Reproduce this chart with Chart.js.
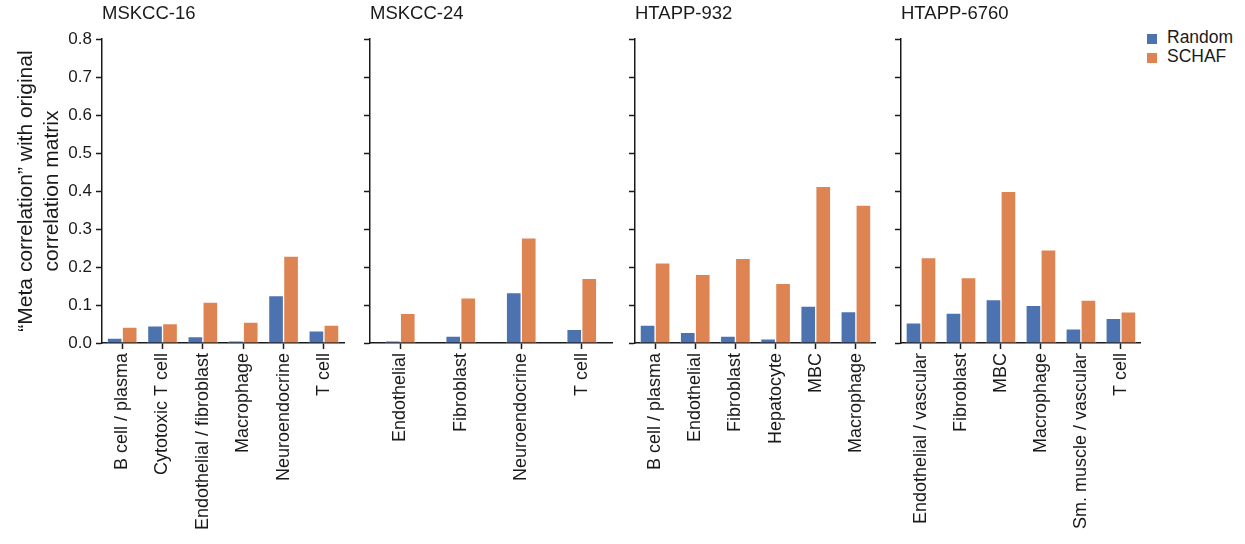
<!DOCTYPE html>
<html>
<head>
<meta charset="utf-8">
<script src="https://cdn.jsdelivr.net/npm/chart.js@4"></script>
<style>
  body { margin: 0; background: #fff; }
  #wrap { position: relative; width: 1245px; height: 544px; font-family: 'Liberation Sans', Arial, sans-serif; }
  .panel { position: absolute; top: 0; height: 544px; }
  .legend { position: absolute; left: 1147px; top: 28px; font-size: 17.5px; color: #1a1a1a; }
  .legend div { height: 19px; line-height: 19px; white-space: nowrap; }
  .legend span { display: inline-block; width: 10px; height: 10px; margin-right: 10px; vertical-align: -1px; }
</style>
</head>
<body>
<div id="wrap">
  <div class="panel" style="left:0px;width:350px"><canvas id="p1"></canvas></div>
  <div class="panel" style="left:350px;width:270px"><canvas id="p2"></canvas></div>
  <div class="panel" style="left:620px;width:262px"><canvas id="p3"></canvas></div>
  <div class="panel" style="left:885px;width:262px"><canvas id="p4"></canvas></div>
  <div class="legend">
    <div><span style="background:#4c72b0"></span>Random</div>
    <div><span style="background:#dd8452"></span>SCHAF</div>
  </div>
</div>
<script>
// Données
const seriesNames = ['Random', 'SCHAF'];
const yTicks = [0, 0.1, 0.2, 0.3, 0.4, 0.5, 0.6, 0.7, 0.8];

const mskcc16Labels = ['B cell / plasma', 'Cytotoxic T cell', 'Endothelial / fibroblast', 'Macrophage', 'Neuroendocrine', 'T cell'];
const mskcc16Random = [0.013, 0.045, 0.017, 0.005, 0.125, 0.032];
const mskcc16Schaf = [0.042, 0.051, 0.108, 0.055, 0.229, 0.047];

const mskcc24Labels = ['Endothelial', 'Fibroblast', 'Neuroendocrine', 'T cell'];
const mskcc24Random = [0.005, 0.018, 0.133, 0.036];
const mskcc24Schaf = [0.078, 0.119, 0.277, 0.170];

const htapp932Labels = ['B cell / plasma', 'Endothelial', 'Fibroblast', 'Hepatocyte', 'MBC', 'Macrophage'];
const htapp932Random = [0.047, 0.028, 0.018, 0.011, 0.097, 0.083];
const htapp932Schaf = [0.211, 0.181, 0.223, 0.157, 0.412, 0.363];

const htapp6760Labels = ['Endothelial / vascular', 'Fibroblast', 'MBC', 'Macrophage', 'Sm. muscle / vascular', 'T cell'];
const htapp6760Random = [0.053, 0.079, 0.114, 0.099, 0.037, 0.065];
const htapp6760Schaf = [0.225, 0.172, 0.399, 0.245, 0.113, 0.082];

const colors = ['#4c72b0', '#dd8452'];
const ink = '#1a1a1a';
const fontFamily = "'Liberation Sans', Arial, sans-serif";

function makePanel(id, title, labels, random, schaf, opts) {
    return new Chart(document.getElementById(id), {
        type: 'bar',
        data: {
            labels: labels,
            datasets: [random, schaf].map((vals, i) => ({
                label: seriesNames[i],
                data: vals,
                backgroundColor: colors[i],
                borderColor: 'rgba(255,255,255,0.75)',
                borderWidth: 1,
                barThickness: 15
            }))
        },
        options: {
            animation: false,
            responsive: true,
            maintainAspectRatio: false,
            layout: { padding: { top: 0, right: opts.right, bottom: 0, left: 0 } },
            plugins: {
                legend: { display: false },
                tooltip: { enabled: false },
                title: {
                    display: true,
                    text: title,
                    align: 'start',
                    fullSize: false,
                    color: ink,
                    font: { family: fontFamily, size: 18.5, weight: 'normal', lineHeight: 1.2 },
                    padding: { top: 3, bottom: 13.8 }
                }
            },
            scales: {
                x: {
                    offset: true,
                    grid: { display: true, drawOnChartArea: false, offset: false, tickLength: 6, tickColor: ink, tickWidth: 1.5 },
                    border: { color: ink, width: 1.5 },
                    ticks: {
                        autoSkip: false,
                        minRotation: 90,
                        maxRotation: 90,
                        padding: 4,
                        color: ink,
                        font: { family: fontFamily, size: 18 }
                    },
                    afterFit: (scale) => { scale.height = 201; }
                },
                y: {
                    min: 0,
                    max: 0.8,
                    afterBuildTicks: (scale) => { scale.ticks = yTicks.map(v => ({ value: v })); },
                    grid: { display: true, drawOnChartArea: false, tickLength: 6, tickColor: ink, tickWidth: 1.5 },
                    border: { color: ink, width: 1.5 },
                    ticks: {
                        display: opts.yLabels,
                        padding: 4,
                        color: ink,
                        font: { family: fontFamily, size: 17 },
                        callback: (v) => Number(v).toFixed(1)
                    },
                    title: {
                        display: opts.yLabels,
                        text: ['\u201CMeta correlation\u201D with original', 'correlation matrix'],
                        color: ink,
                        font: { family: fontFamily, size: 21, lineHeight: 1.2 },
                        padding: { top: 14, bottom: 0 }
                    },
                    afterFit: (scale) => { scale.width = opts.yWidth; }
                }
            }
        }
    });
}

makePanel('p1', 'MSKCC-16', mskcc16Labels, mskcc16Random, mskcc16Schaf, { yLabels: true, yWidth: 102, right: 5 });
makePanel('p2', 'MSKCC-24', mskcc24Labels, mskcc24Random, mskcc24Schaf, { yLabels: false, yWidth: 20, right: 8 });
makePanel('p3', 'HTAPP-932', htapp932Labels, htapp932Random, htapp932Schaf, { yLabels: false, yWidth: 15, right: 5 });
makePanel('p4', 'HTAPP-6760', htapp6760Labels, htapp6760Random, htapp6760Schaf, { yLabels: false, yWidth: 16, right: 5 });
</script>
</body>
</html>
